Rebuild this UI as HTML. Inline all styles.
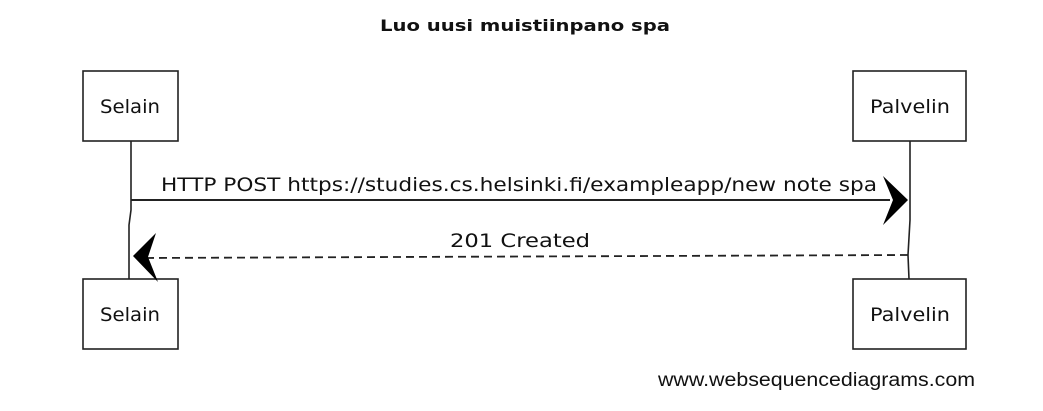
<!DOCTYPE html>
<html><head><meta charset="utf-8"><style>
body{margin:0;background:#fff;width:1043px;height:411px;overflow:hidden}
svg{display:block}
.h{font-family:"DejaVu Sans",sans-serif;fill:#111}
</style></head><body>
<svg width="1043" height="411" viewBox="0 0 1043 411">
<text x="380" y="31" class="h" font-size="16" font-weight="bold" textLength="290" lengthAdjust="spacingAndGlyphs">Luo uusi muistiinpano spa</text>
<g fill="none" stroke="#222" stroke-width="1.6">
<rect x="83" y="71" width="95" height="70"/>
<rect x="83" y="279" width="95" height="70"/>
<rect x="853" y="71" width="113" height="70"/>
<rect x="853" y="279" width="113" height="70"/>
<path d="M131 141 L131 210 L129 225 L129 279"/>
<path d="M910 141 L910 220 L908 255 L909 279"/>
<path d="M131 200 L890 200" stroke-width="2"/>
<path d="M908 255 L140 258" stroke-dasharray="8,5" stroke-width="1.8"/>
</g>
<path d="M908 200 L883 176 L893 200 L883 225 Z" fill="#000"/>
<path d="M133 256 L156 233 L148 257 L158 282 Z" fill="#000"/>
<g class="h" font-size="19">
<text x="100" y="113" textLength="60" lengthAdjust="spacingAndGlyphs">Selain</text>
<text x="100" y="321" textLength="60" lengthAdjust="spacingAndGlyphs">Selain</text>
<text x="870" y="113" textLength="80" lengthAdjust="spacingAndGlyphs">Palvelin</text>
<text x="870" y="321" textLength="80" lengthAdjust="spacingAndGlyphs">Palvelin</text>
<text x="161" y="191" textLength="716" lengthAdjust="spacingAndGlyphs">HTTP POST https://studies.cs.helsinki.fi/exampleapp/new note spa</text>
<text x="450" y="247" textLength="140" lengthAdjust="spacingAndGlyphs">201 Created</text>
</g>
<text x="658" y="386" font-family="Liberation Sans,sans-serif" font-size="19" fill="#111" textLength="317" lengthAdjust="spacingAndGlyphs">www.websequencediagrams.com</text>
</svg>
</body></html>
